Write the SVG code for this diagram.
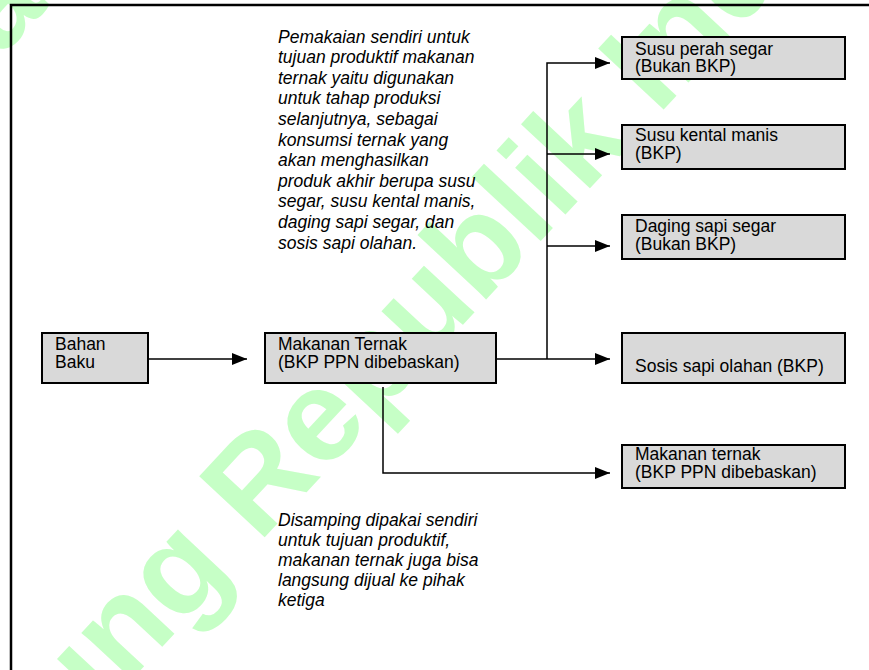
<svg xmlns="http://www.w3.org/2000/svg" width="869" height="670" viewBox="0 0 869 670">
<defs>
<style>
.box{fill:#d9d9d9;stroke:#000;stroke-width:2}
.t{font-family:"Liberation Sans",Arial,sans-serif;font-size:17.5px;fill:#000}
.it{font-style:italic}
.wm{font-family:"Liberation Sans",Arial,sans-serif;font-weight:bold;font-size:130px;fill:#c6ffc6}
.c{fill:none;stroke:#000;stroke-width:1.5}
.frame{fill:none;stroke:#000;stroke-width:2.5}
</style>
<marker id="ah" markerWidth="15" markerHeight="12" refX="15" refY="6" orient="auto" markerUnits="userSpaceOnUse"><path d="M0,0 L15,6 L0,12 Z" fill="#000"/></marker>
</defs>
<rect width="869" height="670" fill="#fff"/>
<g id="watermark">
<text class="wm" transform="translate(262,540) rotate(-47)" x="-1155.7">Mahkamah Agung Republik Indonesia</text>
<text class="wm" transform="translate(-118.1,185.4) rotate(-47)" x="-2097">Mahkamah Agung Republik Indonesia</text>
</g>
<path class="frame" d="M11,670 V5 H869"/>
<g id="connectors">
<path class="c" d="M148,359 H247" marker-end="url(#ah)"/>
<path class="c" d="M496,359 H610" marker-end="url(#ah)"/>
<path class="c" d="M547,359 V63 H610" marker-end="url(#ah)"/>
<path class="c" d="M547,154 H610" marker-end="url(#ah)"/>
<path class="c" d="M547,246 H610" marker-end="url(#ah)"/>
<path class="c" d="M383,387 V473 H610" marker-end="url(#ah)"/>
</g>
<g id="bahan-baku">
<rect class="box" x="42" y="333" width="106" height="50"/>
<text class="t" x="55" y="350">Bahan</text>
<text class="t" x="55" y="368">Baku</text>
</g>
<g id="makanan-ternak">
<rect class="box" x="265" y="333" width="231" height="50"/>
<text class="t" x="278" y="350">Makanan Ternak</text>
<text class="t" x="278" y="368">(BKP PPN dibebaskan)</text>
</g>
<g id="susu-perah">
<rect class="box" x="622" y="37" width="223" height="42"/>
<text class="t" x="635" y="54.5">Susu perah segar</text>
<text class="t" x="635" y="72">(Bukan BKP)</text>
</g>
<g id="susu-kental">
<rect class="box" x="622" y="125" width="223" height="44"/>
<text class="t" x="635" y="141">Susu kental manis</text>
<text class="t" x="635" y="158.5">(BKP)</text>
</g>
<g id="daging">
<rect class="box" x="622" y="215" width="223" height="44"/>
<text class="t" x="635" y="232">Daging sapi segar</text>
<text class="t" x="635" y="249.5">(Bukan BKP)</text>
</g>
<g id="sosis">
<rect class="box" x="622" y="333" width="223" height="50"/>
<text class="t" x="635" y="372">Sosis sapi olahan (BKP)</text>
</g>
<g id="makanan-ternak-jual">
<rect class="box" x="622" y="445" width="223" height="43"/>
<text class="t" x="635" y="460">Makanan ternak</text>
<text class="t" x="635" y="478">(BKP PPN dibebaskan)</text>
</g>
<g id="note-top" class="t it">
<text x="278" y="42.5">Pemakaian sendiri untuk</text>
<text x="278" y="63.1">tujuan produktif makanan</text>
<text x="278" y="83.7">ternak yaitu digunakan</text>
<text x="278" y="104.3">untuk tahap produksi</text>
<text x="278" y="124.9">selanjutnya, sebagai</text>
<text x="278" y="145.5">konsumsi ternak yang</text>
<text x="278" y="166.1">akan menghasilkan</text>
<text x="278" y="186.7">produk akhir berupa susu</text>
<text x="278" y="207.3">segar, susu kental manis,</text>
<text x="278" y="227.9">daging sapi segar, dan</text>
<text x="278" y="248.5">sosis sapi olahan.</text>
</g>
<g id="note-bottom" class="t it">
<text x="278" y="525.5">Disamping dipakai sendiri</text>
<text x="278" y="545.7">untuk tujuan produktif,</text>
<text x="278" y="565.9">makanan ternak juga bisa</text>
<text x="278" y="586.1">langsung dijual ke pihak</text>
<text x="278" y="606.3">ketiga</text>
</g>
</svg>
